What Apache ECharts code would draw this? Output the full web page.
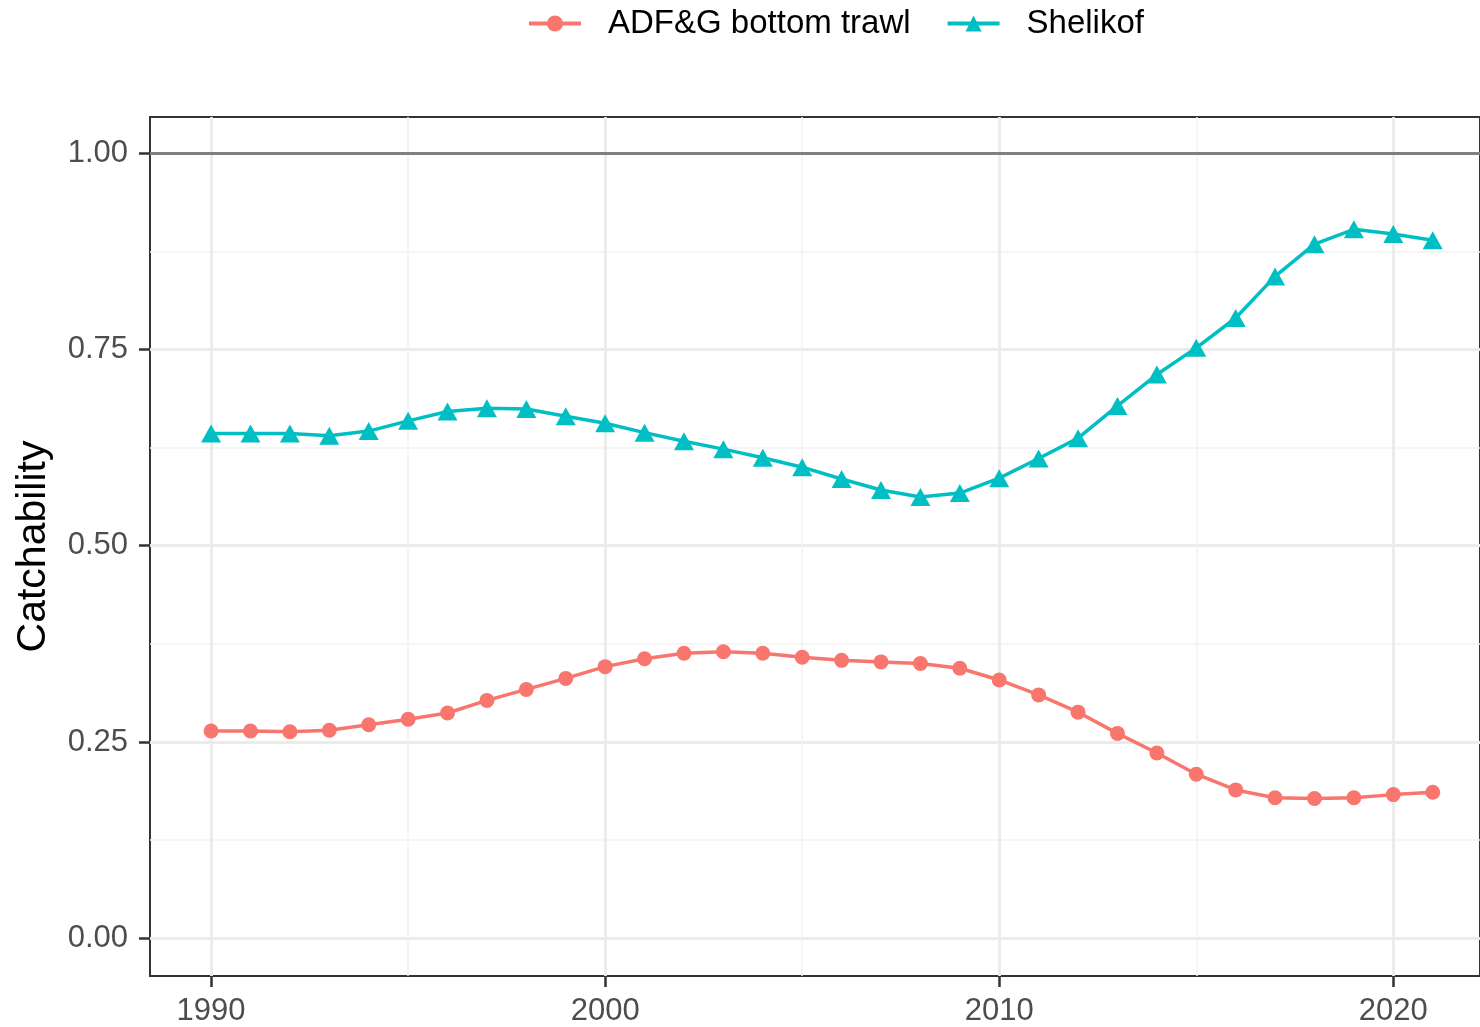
<!DOCTYPE html>
<html>
<head>
<meta charset="utf-8">
<script src="https://cdn.jsdelivr.net/npm/echarts@6/dist/echarts.min.js"></script>
<style>
html,body{margin:0;padding:0;background:#fff;}
#chart{width:1480px;height:1027px;}
</style>
</head>
<body>
<div id="chart"></div>
<script>
var years = [1990,1991,1992,1993,1994,1995,1996,1997,1998,1999,2000,2001,2002,2003,2004,2005,2006,2007,2008,2009,2010,2011,2012,2013,2014,2015,2016,2017,2018,2019,2020,2021];
var adfg = [0.264,0.264,0.263,0.265,0.272,0.279,0.287,0.303,0.317,0.331,0.346,0.356,0.363,0.365,0.363,0.358,0.354,0.352,0.350,0.344,0.329,0.310,0.288,0.261,0.236,0.209,0.189,0.179,0.178,0.179,0.183,0.186];
var shelikof = [0.643,0.643,0.643,0.640,0.646,0.659,0.671,0.675,0.674,0.665,0.656,0.644,0.633,0.623,0.612,0.600,0.585,0.571,0.562,0.567,0.586,0.611,0.637,0.678,0.718,0.752,0.790,0.843,0.884,0.903,0.897,0.889];
var seriesNames = ['ADF&G bottom trawl', 'Shelikof'];
var refLine = 1.0;
var yTicks = [0, 0.25, 0.5, 0.75, 1.0];
var yMinor = [0.125, 0.375, 0.625, 0.875];
var xTicks = [1990, 2000, 2010, 2020];
var xMinor = [1995, 2005, 2015];

var X_MIN = 1988.45, X_MAX = 2022.2, Y_MIN = -0.048, Y_MAX = 1.046;
var FONT = '"Liberation Sans", Arial, sans-serif';

function pairs(xs, ys){ return xs.map(function(x,i){ return [x, ys[i]]; }); }

var chart = echarts.init(document.getElementById('chart'), null, {renderer:'canvas'});
var option = {
  backgroundColor: '#ffffff',
  animation: false,
  textStyle: {fontFamily: FONT},
  legend: {
    left: 522, top: 2,
    itemWidth: 52, itemHeight: 20, itemGap: 35,
    lineStyle: {width: 4},
    textStyle: {fontSize: 33, color: '#000', fontFamily: FONT, padding: [0,0,0,22]},
    data: seriesNames
  },
  grid: {
    left: 150, top: 117, right: 0, bottom: 49,
    show: true, borderColor: '#333333', borderWidth: 2, backgroundColor: '#ffffff'
  },
  xAxis: [{
    type: 'value', min: X_MIN, max: X_MAX,
    axisLine: {show: false, onZero: false},
    axisTick: {show: true, length: 11, lineStyle: {color: '#333333', width: 2.5}, customValues: xTicks},
    axisLabel: {show: true, customValues: xTicks, margin: 20, fontSize: 31, color: '#4d4d4d', fontFamily: FONT,
      formatter: function(v){ return String(Math.round(v)); }},
    splitLine: {show: true, lineStyle: {color: '#ebebeb', width: 2.8}}
  },{
    type: 'value', min: X_MIN, max: X_MAX, position: 'bottom',
    axisLine: {show: false, onZero: false},
    axisTick: {show: false, customValues: xMinor},
    axisLabel: {show: false, customValues: xMinor},
    splitLine: {show: true, lineStyle: {color: '#f2f2f2', width: 1.5}}
  }],
  yAxis: [{
    type: 'value', min: Y_MIN, max: Y_MAX,
    name: 'Catchability', nameLocation: 'middle', nameRotate: 90, nameGap: 96,
    nameTextStyle: {fontSize: 41, color: '#000', fontFamily: FONT},
    axisLine: {show: false, onZero: false},
    axisTick: {show: true, length: 11, lineStyle: {color: '#333333', width: 2.5}, customValues: yTicks},
    axisLabel: {show: true, customValues: yTicks, margin: 22, fontSize: 31, color: '#4d4d4d', fontFamily: FONT,
      formatter: function(v){ return Number(v).toFixed(2); }},
    splitLine: {show: true, lineStyle: {color: '#ebebeb', width: 2.8}}
  },{
    type: 'value', min: Y_MIN, max: Y_MAX, position: 'left',
    axisLine: {show: false, onZero: false},
    axisTick: {show: false, customValues: yMinor},
    axisLabel: {show: false, customValues: yMinor},
    splitLine: {show: true, lineStyle: {color: '#f2f2f2', width: 1.5}}
  }],
  series: [{
    name: seriesNames[0], type: 'line', xAxisIndex: 0, yAxisIndex: 0,
    data: pairs(years, adfg),
    symbol: 'circle', symbolSize: 15,
    itemStyle: {color: '#F8766D'},
    lineStyle: {color: '#F8766D', width: 3.5},
    z: 3,
    markLine: {
      silent: true, symbol: ['none','none'],
      label: {show: false},
      lineStyle: {color: '#7f7f7f', width: 3, type: 'solid'},
      data: [{yAxis: refLine}]
    }
  },{
    name: seriesNames[1], type: 'line', xAxisIndex: 0, yAxisIndex: 0,
    data: pairs(years, shelikof),
    symbol: 'triangle', symbolSize: [20, 18],
    itemStyle: {color: '#00BFC4'},
    lineStyle: {color: '#00BFC4', width: 3.5},
    z: 3
  }]
};
chart.setOption(option);
</script>
</body>
</html>
